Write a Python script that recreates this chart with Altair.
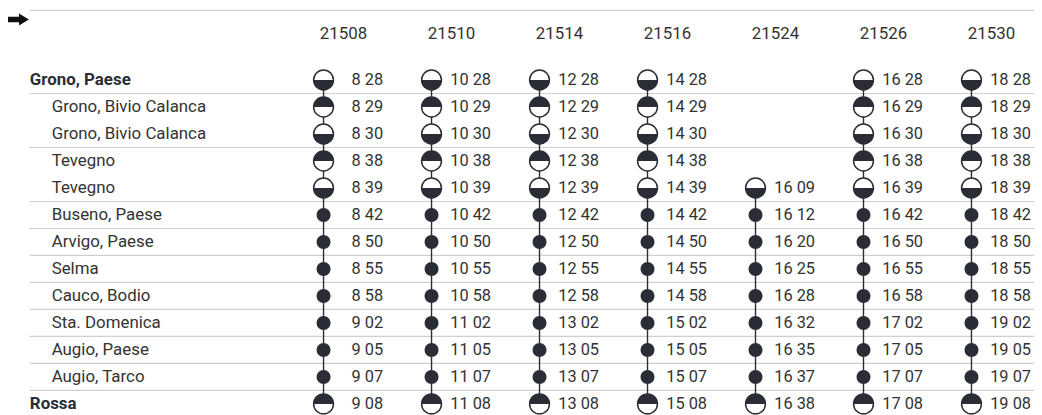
import altair as alt
import pandas as pd

stations = ["Grono, Paese", "Grono, Bivio Calanca", "Grono, Bivio Calanca", "Tevegno", "Tevegno",
            "Buseno, Paese", "Arvigo, Paese", "Selma", "Cauco, Bodio", "Sta. Domenica",
            "Augio, Paese", "Augio, Tarco", "Rossa"]
kinds = ["dep", "arr", "dep", "arr", "dep", "pass", "pass", "pass", "pass", "pass", "pass", "pass", "arr"]
major = [True, False, False, False, False, False, False, False, False, False, False, False, True]
separator_after = [0, 2, 4, 5, 6, 7, 8, 9, 10, 11]

trips = ["21508", "21510", "21514", "21516", "21524", "21526", "21530"]
t21508 = ["8 28", "8 29", "8 30", "8 38", "8 39", "8 42", "8 50", "8 55", "8 58", "9 02", "9 05", "9 07", "9 08"]
t21510 = ["10 28", "10 29", "10 30", "10 38", "10 39", "10 42", "10 50", "10 55", "10 58", "11 02", "11 05", "11 07", "11 08"]
t21514 = ["12 28", "12 29", "12 30", "12 38", "12 39", "12 42", "12 50", "12 55", "12 58", "13 02", "13 05", "13 07", "13 08"]
t21516 = ["14 28", "14 29", "14 30", "14 38", "14 39", "14 42", "14 50", "14 55", "14 58", "15 02", "15 05", "15 07", "15 08"]
t21524 = [None, None, None, None, "16 09", "16 12", "16 20", "16 25", "16 28", "16 32", "16 35", "16 37", "16 38"]
t21526 = ["16 28", "16 29", "16 30", "16 38", "16 39", "16 42", "16 50", "16 55", "16 58", "17 02", "17 05", "17 07", "17 08"]
t21530 = ["18 28", "18 29", "18 30", "18 38", "18 39", "18 42", "18 50", "18 55", "18 58", "19 02", "19 05", "19 07", "19 08"]
all_times = [t21508, t21510, t21514, t21516, t21524, t21526, t21530]

DARK = "#2b2d36"
TEXT = "#333333"
GRID = "#cfcfcf"
FONT = "Roboto"

rows = []
spans = []
for ti, (trip, tl) in enumerate(zip(trips, all_times)):
    idx = [si for si, t in enumerate(tl) if t is not None]
    spans.append({"trip": ti, "first": min(idx), "last": max(idx), "name": trip})
    for si in idx:
        rows.append({"trip": ti, "row": si, "time": tl[si], "kind": kinds[si]})
df = pd.DataFrame(rows)
span_df = pd.DataFrame(spans)
st_df = pd.DataFrame({"row": list(range(len(stations))), "name": stations, "major": major})
sep_df = pd.DataFrame({"row": [s + 0.5 for s in separator_after]})

xs = alt.Scale(domain=[0, 6], range=[318, 971])
ys = alt.Scale(domain=[0, 12], range=[71, 397.4])
X = alt.X("trip:Q", scale=xs, axis=None)
Y = alt.Y("row:Q", scale=ys, axis=None)

CIRCLE = "M-1,0A1,1 0 1,1 1,0A1,1 0 1,1 -1,0Z"
TOP = "M-1,0A1,1 0 0,1 1,0Z"
BOTTOM = "M-1,0A1,1 0 0,0 1,0Z"
ARROW = "M-1,-0.25L0.1,-0.25L0.1,-0.55L1,0L0.1,0.55L0.1,0.25L-1,0.25Z"

top_line = alt.Chart(pd.DataFrame({"a": [0]})).mark_rule(color=GRID, strokeWidth=1.2).encode(
    x=alt.value(22), x2=alt.value(1034), y=alt.value(0.75))

seps = alt.Chart(sep_df).mark_rule(color=GRID, strokeWidth=1.2).encode(
    x=alt.value(22), x2=alt.value(1034), y=Y)

vlines = alt.Chart(span_df).mark_rule(color=DARK, strokeWidth=1.4).encode(
    x=X, y=alt.Y("first:Q", scale=ys, axis=None), y2="last:Q")

base = alt.Chart(df)
outline = base.transform_filter("datum.kind != 'pass'").mark_point(
    shape=CIRCLE, size=400, filled=True, fill="white", stroke=DARK, strokeWidth=1.5, opacity=1
).encode(x=X, y=Y)
top_half = base.transform_filter("datum.kind == 'arr'").mark_point(
    shape=TOP, size=400, filled=True, color=DARK, opacity=1).encode(x=X, y=Y)
bottom_half = base.transform_filter("datum.kind == 'dep'").mark_point(
    shape=BOTTOM, size=400, filled=True, color=DARK, opacity=1).encode(x=X, y=Y)
dots = base.transform_filter("datum.kind == 'pass'").mark_point(
    shape=CIRCLE, size=196, filled=True, color=DARK, opacity=1).encode(x=X, y=Y)

times = base.mark_text(align="right", baseline="middle", dx=60, font=FONT, fontSize=16.5, color=TEXT).encode(
    x=X, y=Y, text="time:N")

headers = alt.Chart(span_df).mark_text(align="right", baseline="middle", dx=44, font=FONT, fontSize=17,
                                      color=TEXT).encode(x=X, y=alt.value(25), text="name:N")

labels_major = alt.Chart(st_df).transform_filter("datum.major").mark_text(
    align="left", baseline="middle", font=FONT, fontSize=17, fontWeight="bold", color=DARK
).encode(x=alt.value(22), y=Y, text="name:N")
labels_minor = alt.Chart(st_df).transform_filter("!datum.major").mark_text(
    align="left", baseline="middle", font=FONT, fontSize=17, color=TEXT
).encode(x=alt.value(44), y=Y, text="name:N")

arrow = alt.Chart(pd.DataFrame({"a": [0]})).mark_point(
    shape=ARROW, size=484, filled=True, color="#111111", opacity=1
).encode(x=alt.value(10), y=alt.value(10))

chart = alt.layer(top_line, seps, vlines, outline, top_half, bottom_half, dots, times, headers,
                  labels_major, labels_minor, arrow).properties(
    width=1034, height=408, padding=0, autosize=alt.AutoSizeParams(type="none")
).configure_view(stroke=None)

chart.save("out.html", embed_options={"renderer": "svg", "actions": False})
